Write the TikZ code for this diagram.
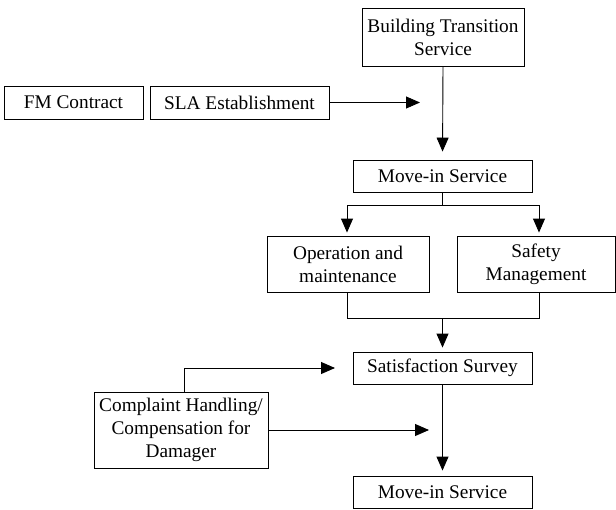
\documentclass[tikz,border=0pt]{standalone}
\usepackage{fontspec}
\setmainfont{Liberation Serif}
\usetikzlibrary{arrows.meta}
\begin{document}
\begin{tikzpicture}[x=1pt,y=-1pt,
  box/.style={draw=black,line width=0.9pt,inner sep=0pt,align=center,
    font=\fontsize{19.3}{23}\selectfont},
  conn/.style={draw=black,line width=0.9pt},
  arr/.style={conn,-{Triangle[length=14pt,width=12pt]}}]
\useasboundingbox (0,0) rectangle (616,509);
\node[box,minimum width=162pt,minimum height=58pt] (bts) at (443,37) {Building Transition\\Service};
\node[box,minimum width=139pt,minimum height=33pt] (fm) at (73.5,102.5) {FM Contract};
\node[box,minimum width=179pt,minimum height=33pt] (sla) at (239.5,102.5) {SLA Establishment};
\node[box,minimum width=179pt,minimum height=32pt] (mv1) at (442.5,176) {Move-in Service};
\node[box,minimum width=162pt,minimum height=56pt] (op) at (348,264) {Operation and\\maintenance};
\node[box,minimum width=158pt,minimum height=56pt] (sm) at (536,264) {Safety\\Management};
\node[box,minimum width=179pt,minimum height=32pt] (ss) at (442.5,368) {Satisfaction Survey};
\node[box,minimum width=174pt,minimum height=76pt] (ch) at (181,430) {Complaint Handling/\\Compensation for\\Damager};
\node[box,minimum width=179pt,minimum height=32pt] (mv2) at (442.5,492) {Move-in Service};
\coordinate (slatip) at (420,102.5);
\coordinate (bsplit) at (442.5,205);
\coordinate (b1) at (347,205);
\coordinate (b2) at (539,205);
\coordinate (m1) at (347,318);
\coordinate (m2) at (539,318);
\coordinate (mjoin) at (442.5,318);
\coordinate (chcorner) at (184,368);
\coordinate (chtip) at (335,368);
\coordinate (chtip2) at (429,430);
\draw[arr] (sla.east) -- (slatip);
\draw[arr,shorten >=8pt] (bts.south) -- (mv1.north);
\draw[conn] (mv1.south) -- (bsplit);
\draw[conn] (b1) -- (b2);
\draw[arr,shorten >=3pt] (b1) -- (b1 |- op.north);
\draw[arr,shorten >=3pt] (b2) -- (b2 |- sm.north);
\draw[conn] (m1 |- op.south) -- (m1) -- (m2) -- (m2 |- sm.south);
\draw[arr,shorten >=4pt] (mjoin) -- (ss.north);
\draw[arr] (chcorner |- ch.north) -- (chcorner) -- (chtip);
\draw[arr] (ch.east |- chtip2) -- (chtip2);
\draw[arr,shorten >=5pt] (ss.south) -- (mv2.north);
\end{tikzpicture}
\end{document}
